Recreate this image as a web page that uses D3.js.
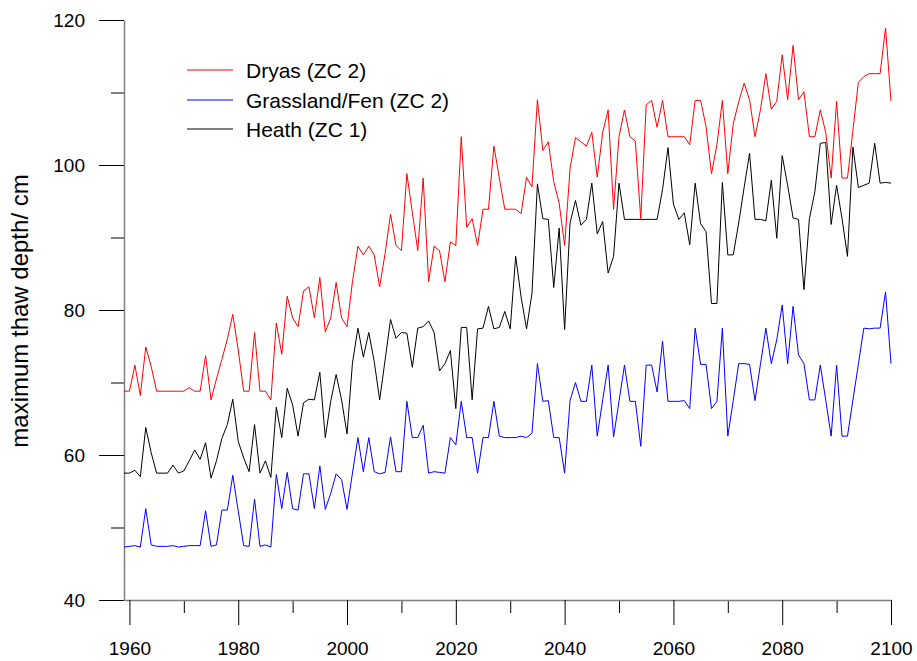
<!DOCTYPE html>
<html><head><meta charset="utf-8">
<script src="https://cdn.jsdelivr.net/npm/d3@7"></script>
<style>
html,body{margin:0;padding:0;background:#fff;}
svg text{font-family:"Liberation Sans",Arial,sans-serif;fill:#000;}
</style></head>
<body><svg id="chart" width="917" height="661"></svg>
<script>
const startYear = 1959, endYear = 2100;
const years = d3.range(startYear, endYear + 1);

const dryas = [
 68.8,
 68.8,72.4,68.2,74.9,72.2,68.8,68.8,68.8,68.8,68.8,
 68.8,69.3,68.8,68.8,73.7,67.6,70.5,73.2,76.0,79.4,
 74.5,68.8,68.8,76.9,68.8,68.8,67.6,78.2,73.9,81.9,
 78.9,77.7,82.6,83.2,78.9,84.5,77.0,78.9,83.8,78.9,
 77.7,83.9,88.8,87.6,88.8,87.6,83.2,87.8,93.2,88.9,
 88.2,98.8,93.5,88.2,98.2,83.9,88.8,88.2,83.9,89.4,
 88.9,103.9,91.4,92.6,88.9,93.9,93.9,102.6,98.2,93.9,
 93.9,93.9,93.3,98.3,97.0,109.0,102.0,103.2,97.7,94.7,
 88.9,99.5,103.8,103.2,102.6,104.5,98.3,104.5,107.6,93.9,
 103.9,107.6,103.9,103.3,92.6,108.3,108.9,105.2,108.9,103.9,
 103.9,103.9,103.9,102.8,108.9,108.9,105.3,98.8,102.8,108.9,
 98.8,105.7,108.7,111.3,109.0,103.9,107.6,112.6,107.7,108.8,
 115.2,109.0,116.5,109.0,110.1,103.9,103.9,107.6,104.5,98.2,
 108.8,98.2,98.2,104.8,111.4,112.2,112.6,112.6,112.6,118.9,
 108.8
];
const grassland = [
 47.3,
 47.4,47.5,47.3,52.6,47.6,47.4,47.4,47.4,47.5,47.3,
 47.4,47.5,47.5,47.5,52.3,47.4,47.6,52.4,52.4,57.2,
 52.3,47.5,47.4,53.9,47.4,47.6,47.3,57.3,52.6,57.6,
 52.6,52.4,57.4,57.4,52.6,58.5,52.5,54.7,57.4,56.6,
 52.5,57.5,62.4,57.7,62.4,57.7,57.4,57.6,62.5,57.7,
 57.7,67.4,62.4,62.4,64.1,57.5,57.7,57.6,57.5,62.4,
 61.4,67.4,62.4,62.4,57.5,62.4,62.4,67.4,62.6,62.4,
 62.4,62.4,62.6,62.4,63.0,72.6,67.4,67.5,62.4,62.4,
 57.5,67.5,70.0,67.4,67.4,72.4,62.6,67.6,72.4,62.5,
 67.4,72.4,67.4,67.4,61.2,72.4,72.4,68.7,75.7,67.4,
 67.4,67.4,67.5,66.4,77.5,72.5,72.5,66.4,67.4,77.5,
 62.6,67.5,72.6,72.6,72.5,67.5,72.5,77.5,72.6,75.9,
 80.7,72.6,80.5,73.8,72.6,67.6,67.6,72.4,67.6,62.6,
 72.4,62.6,62.6,67.6,72.5,77.5,77.4,77.5,77.5,82.5,
 72.6
];
const heath = [
 57.5,
 57.5,57.9,57.0,63.8,60.3,57.5,57.5,57.5,58.6,57.5,
 57.8,59.2,60.7,59.4,61.7,56.8,59.2,62.3,64.2,67.7,
 61.9,59.6,57.7,64.2,57.5,59.2,56.9,66.6,62.4,69.2,
 66.9,62.6,67.2,67.7,67.6,71.4,62.4,67.4,71.1,67.6,
 62.9,72.7,77.5,73.5,76.9,72.9,67.6,73.1,78.7,76.1,
 76.9,76.8,72.1,77.5,77.7,78.5,76.9,71.6,72.6,74.4,
 66.4,77.6,77.6,67.6,77.4,77.5,80.5,77.4,77.6,79.8,
 77.4,87.4,81.8,77.4,82.3,97.4,92.6,92.5,83.1,91.3,
 77.3,92.0,95.1,91.7,92.5,97.5,90.5,92.2,85.1,87.4,
 97.5,92.5,92.5,92.5,92.5,92.5,92.5,92.5,96.6,102.4,
 94.6,92.5,93.4,89.0,97.5,91.9,90.8,80.9,80.9,97.6,
 87.6,87.6,92.0,96.9,101.6,92.5,92.5,92.3,97.9,89.9,
 101.3,97.2,92.7,92.5,82.8,92.6,96.3,103.0,103.1,91.8,
 97.2,92.6,87.4,102.5,96.9,97.2,97.5,103.0,97.5,97.6,
 97.5
];

const seriesNames = ["Dryas (ZC 2)", "Grassland/Fen (ZC 2)", "Heath (ZC 1)"];
const seriesColors = ["#ff0000", "#0000ff", "#000000"];
const seriesData = [dryas, grassland, heath];

const yMajorTicks = [40, 60, 80, 100, 120];
const yMinorTicks = [50, 70, 90, 110];
const xMajorTicks = [1960, 1980, 2000, 2020, 2040, 2060, 2080, 2100];
const xMinorTicks = [1970, 1990, 2010, 2030, 2050, 2070, 2090];
const yTitle = "maximum thaw depth/ cm";

const svg = d3.select("#chart");
const x = d3.scaleLinear().domain([startYear, endYear]).range([124, 891]);
const y = d3.scaleLinear().domain([40, 120]).range([600, 20]);

function styleAxis(g) {
  g.select(".domain").attr("stroke", "#808080").attr("stroke-width", 1.5);
  g.selectAll(".tick line").attr("stroke", "#000").attr("stroke-width", 1);
  g.selectAll(".tick text").attr("font-size", 19).attr("font-family", "Liberation Sans, Arial, sans-serif");
}

// minor ticks
svg.append("g").attr("transform", "translate(124,0)")
  .call(d3.axisLeft(y).tickValues(yMinorTicks).tickSize(13).tickSizeOuter(0).tickFormat(""))
  .call(g => { g.select(".domain").remove(); g.selectAll(".tick line").attr("stroke", "#000"); });
svg.append("g").attr("transform", "translate(0,600)")
  .call(d3.axisBottom(x).tickValues(xMinorTicks).tickSize(13).tickSizeOuter(0).tickFormat(""))
  .call(g => { g.select(".domain").remove(); g.selectAll(".tick line").attr("stroke", "#000"); });

// major axes
svg.append("g").attr("transform", "translate(0,600)")
  .call(d3.axisBottom(x).tickValues(xMajorTicks).tickSize(25).tickSizeOuter(0).tickPadding(17).tickFormat(d3.format("d")))
  .call(styleAxis);
svg.append("g").attr("transform", "translate(124,0)")
  .call(d3.axisLeft(y).tickValues(yMajorTicks).tickSize(25).tickSizeOuter(0).tickPadding(14))
  .call(styleAxis);

// y title
svg.append("text")
  .attr("transform", "translate(28,311) rotate(-90)")
  .attr("text-anchor", "middle")
  .attr("font-size", 24)
  .text(yTitle);

// lines
const line = d3.line().x((d, i) => x(years[i])).y(d => y(d));
[2, 1, 0].forEach(k => {
  svg.append("path")
    .datum(seriesData[k])
    .attr("fill", "none")
    .attr("stroke", seriesColors[k])
    .attr("stroke-width", 1)
    .attr("d", line);
});

// legend
const legend = svg.append("g");
const legendY = [70, 100, 129];
seriesNames.forEach((name, i) => {
  legend.append("line")
    .attr("x1", 187).attr("x2", 233)
    .attr("y1", legendY[i]).attr("y2", legendY[i])
    .attr("stroke", seriesColors[i]).attr("stroke-width", 1);
  legend.append("text")
    .attr("x", 246).attr("y", legendY[i])
    .attr("dy", "0.36em")
    .attr("font-size", 21)
    .text(name);
});
</script>
</body></html>
